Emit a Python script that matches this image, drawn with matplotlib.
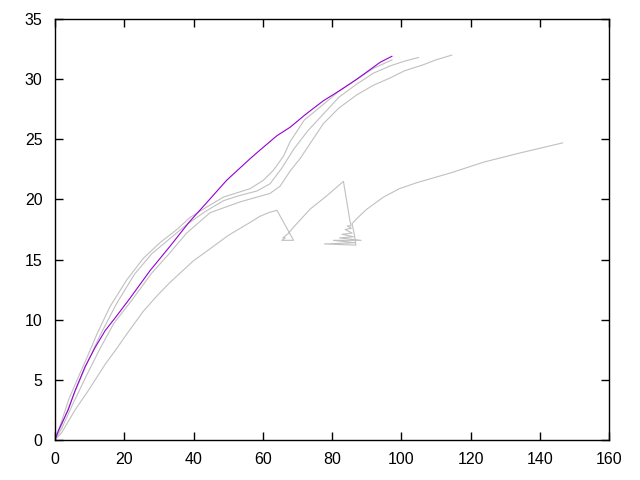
import matplotlib
matplotlib.use('Agg')
import matplotlib.pyplot as plt

# purple run
mag_x = [0, 1, 3.8, 5.8, 8.7, 11.6, 14.5, 17.5, 21.7, 27.5, 33.2, 38.7, 43.4, 49.6,
         56.4, 59.2, 64.1, 67.9, 72.5, 77.5, 82.5, 87.2, 93.9, 97.3]
mag_y = [0, 0.8, 2.5, 4.1, 6.1, 7.7, 9.1, 10.2, 11.8, 14.1, 16.1, 18.1, 19.6, 21.6,
         23.4, 24.1, 25.3, 26.0, 27.1, 28.2, 29.1, 30.0, 31.4, 31.9]

# grey runs
ga_x = [0, 1.5, 4, 7, 9.6, 12.1, 15.9, 20.7, 25.5, 30.3, 35.2, 39, 44, 48.7, 56.4,
        60.2, 63, 66, 67.9, 72, 77.5, 82, 87.2, 92, 97.3]
ga_y = [0, 1.2, 3.4, 5.4, 7.1, 8.8, 11.1, 13.3, 15.1, 16.4, 17.5, 18.5, 19.4, 20.2, 20.9,
        21.6, 22.4, 23.6, 24.8, 26.6, 27.9, 29.0, 30.0, 30.9, 31.6]

gb_x = [0, 2, 5, 9, 13, 17.9, 23, 28, 33, 38, 43.4, 48.7, 53, 58.3, 62.1, 65.5, 69,
        73, 77.5, 82, 87.2, 92, 96.8, 101, 105]
gb_y = [0, 1.3, 3.5, 6.2, 8.7, 11.4, 13.8, 15.5, 16.7, 17.9, 19.0, 19.9, 20.3, 20.7,
        21.3, 22.6, 24.2, 25.7, 27.1, 28.5, 29.6, 30.5, 31.1, 31.5, 31.8]

gc_x = [0, 2, 5, 9, 13, 17, 22.4, 28, 33, 38, 44.8, 53.5, 62.1, 65, 68, 70.8, 77.5,
        82, 87.2, 92, 96.8, 101, 106.4, 110, 114.6]
gc_y = [0, 1.0, 2.9, 5.3, 7.6, 9.7, 11.7, 13.9, 15.5, 17.2, 18.9, 19.8, 20.5, 21.1,
        22.4, 23.4, 26.3, 27.6, 28.7, 29.5, 30.1, 30.7, 31.2, 31.6, 32.0]

gd_x = [0, 1.9, 5.8, 9.6, 14.5, 17.8, 20.7, 25.5, 29.5, 33.2, 40, 44.8, 50, 56.4, 59.2,
        61.7, 64.1, 68.9, 65.5, 66.5, 65.8, 67.5, 68.9, 73.7, 78.5, 82.9, 83.3,
        85.2, 85.5, 84.4, 85.6, 83.8, 85.8, 82.9, 86.2, 82.2, 88.4, 80.4, 86.7, 77.8,
        86.9, 86.5, 85.8, 87.5, 90.1, 94.9, 99.5, 104.6, 114.2, 123.8, 133.4, 146.6]
gd_y = [0, 0.6, 2.5, 4.1, 6.3, 7.6, 8.8, 10.7, 12.0, 13.1, 14.9, 15.9, 17.0, 18.1, 18.6,
        18.9, 19.1, 16.6, 16.6, 16.8, 16.8, 17.2, 17.7, 19.2, 20.3, 21.4, 21.5,
        18.2, 17.8, 17.8, 17.6, 17.5, 17.2, 17.1, 16.9, 16.8, 16.6, 16.6, 16.4, 16.3,
        16.2, 17.0, 18.0, 18.5, 19.2, 20.2, 20.9, 21.4, 22.2, 23.1, 23.8, 24.7]

grey = '#c0c0c0'

fig = plt.figure(figsize=(6.4, 4.8), dpi=100)
ax = fig.add_axes([55 / 640, 40 / 480, 554 / 640, 421 / 480])

for xs, ys in [(ga_x, ga_y), (gb_x, gb_y), (gc_x, gc_y), (gd_x, gd_y)]:
    ax.plot(xs, ys, color=grey, lw=0.8)
ax.plot(mag_x, mag_y, color='#9400d3', lw=0.8)

ax.set_xlim(0, 160)
ax.set_ylim(0, 35)
ax.set_xticks(range(0, 161, 20))
ax.set_yticks(range(0, 36, 5))
ax.tick_params(direction='in', length=6, width=1, top=True, right=True,
               labelsize=11.5, pad=9)
for lab in ax.get_xticklabels() + ax.get_yticklabels():
    lab.set_family('Liberation Sans')
for sp in ax.spines.values():
    sp.set_linewidth(1)

fig.savefig('out.png', dpi=100)
